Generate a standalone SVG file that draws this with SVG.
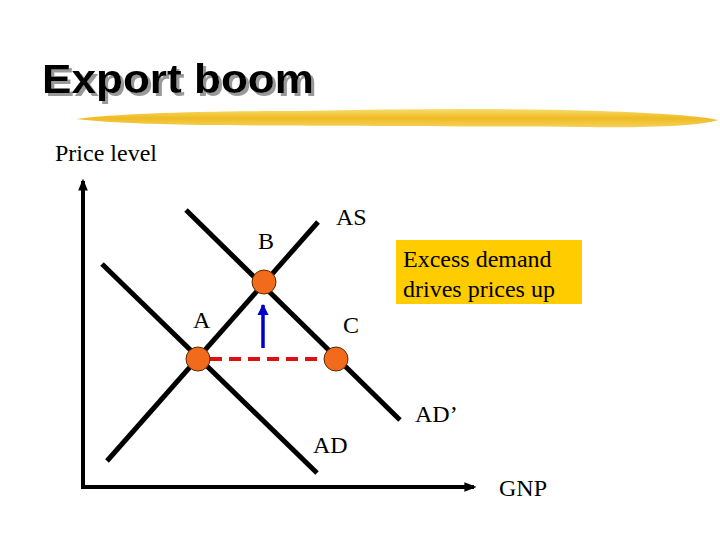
<svg xmlns="http://www.w3.org/2000/svg" width="720" height="540" viewBox="0 0 720 540">
<style>
.lbl{font-family:"Liberation Serif","Times New Roman",serif;font-size:24px;fill:#000}
.curve{stroke:#000;stroke-width:5;fill:none}
.axis{stroke:#000;stroke-width:4;fill:none}
.pt{fill:#F26B1D;stroke:#5a2a00;stroke-width:1}
.title{font-family:"Liberation Sans",Arial,sans-serif;font-weight:bold;font-size:41px;fill:#000}
</style>
<defs>
<marker id="axArrow" viewBox="0 0 10 10" refX="8" refY="5" markerWidth="3" markerHeight="3" orient="auto"><path d="M0,1 L10,5 L0,9 z" fill="#000"/></marker>
<marker id="blueArrow" viewBox="0 0 10 10" refX="9" refY="5" markerWidth="3.2" markerHeight="3.2" orient="auto"><path d="M0,0 L10,5 L0,10 z" fill="#0000CC"/></marker>
<linearGradient id="brush" x1="0" y1="0" x2="0" y2="1">
<stop offset="0" stop-color="#F7DC6A"/><stop offset="0.5" stop-color="#EEBB22"/><stop offset="1" stop-color="#F5D15A"/>
</linearGradient>
<filter id="shadow" x="-5%" y="-20%" width="115%" height="150%">
<feOffset in="SourceAlpha" dx="2.5" dy="2.5" result="o"/>
<feFlood flood-color="#999"/>
<feComposite in2="o" operator="in" result="s"/>
<feMerge><feMergeNode in="s"/><feMergeNode in="SourceGraphic"/></feMerge>
</filter>
</defs>
<rect width="720" height="540" fill="#fff"/>
<g id="title">
<text x="42" y="93" class="title" filter="url(#shadow)" textLength="272" lengthAdjust="spacingAndGlyphs">Export boom</text>
<path d="M76,119 C120,113 200,111 300,111 C400,109 500,108 600,111 C660,113 700,116 718,120 C700,126 650,128 580,127 C450,126 300,126 200,125 C140,124 100,122 76,119 Z" fill="url(#brush)"/>
</g>
<g id="axes">
<line x1="83" y1="487" x2="83" y2="181" class="axis" marker-end="url(#axArrow)"/>
<line x1="81" y1="487" x2="474" y2="487" class="axis" marker-end="url(#axArrow)"/>
<text x="55" y="161" class="lbl">Price level</text>
<text x="499" y="496" class="lbl">GNP</text>
</g>
<g id="connectors">
<line id="AD" x1="102" y1="264" x2="317" y2="473" class="curve"/>
<line id="ADp" x1="186" y1="210" x2="400" y2="420" class="curve"/>
<line id="AS" x1="107" y1="461" x2="318" y2="222" class="curve"/>
<line x1="210" y1="359" x2="325" y2="359" stroke="#E01010" stroke-width="4" stroke-dasharray="12,7"/>
<line x1="263" y1="348" x2="263" y2="305" stroke="#0000CC" stroke-width="3.5" marker-end="url(#blueArrow)"/>
</g>
<g id="pointA"><circle cx="198" cy="359" r="12" class="pt"/><text x="193" y="328" class="lbl">A</text></g>
<g id="pointB"><circle cx="264" cy="282" r="12" class="pt"/><text x="258" y="249" class="lbl">B</text></g>
<g id="pointC"><circle cx="336" cy="359" r="12" class="pt"/><text x="343" y="333" class="lbl">C</text></g>
<g id="labels">
<text x="336" y="225" class="lbl">AS</text>
<text x="415" y="422" class="lbl">AD’</text>
<text x="313" y="453" class="lbl">AD</text>
</g>
<g id="note">
<rect x="396" y="240" width="186" height="64" fill="#FFCC00"/>
<text x="403" y="267" class="lbl">Excess demand</text>
<text x="403" y="297" class="lbl">drives prices up</text>
</g>
</svg>
